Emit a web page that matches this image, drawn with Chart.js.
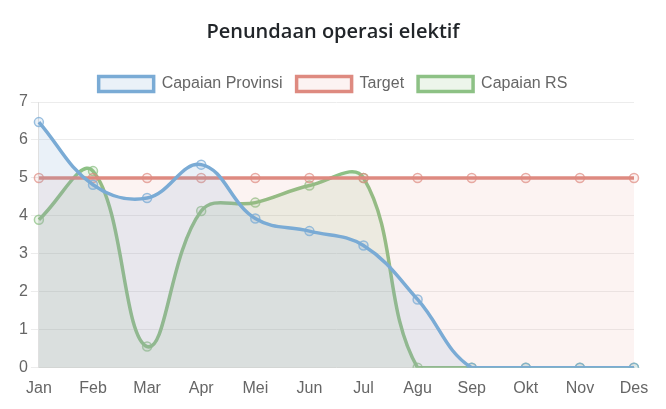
<!DOCTYPE html>
<html lang="id">
<head>
    <meta charset="UTF-8">
    <title>Penundaan operasi elektif</title>
    <script src="https://cdn.jsdelivr.net/npm/chart.js"></script>
    <style>
        body {
            margin: 0;
            background-color: #ffffff;
        }
        #chart-container {
            width: 666px;
            height: 409px;
        }
        canvas {
            display: block;
        }
    </style>
</head>
<body>
    <div id="chart-container">
        <canvas id="delayChart"></canvas>
    </div>

    <script>
        const months = ['Jan', 'Feb', 'Mar', 'Apr', 'Mei', 'Jun', 'Jul', 'Agu', 'Sep', 'Okt', 'Nov', 'Des'];
        const capaianProvinsi = [6.47, 4.82, 4.47, 5.35, 3.93, 3.6, 3.22, 1.8, 0, 0, 0, 0];
        const target = [5, 5, 5, 5, 5, 5, 5, 5, 5, 5, 5, 5];
        const capaianRS = [3.9, 5.18, 0.56, 4.13, 4.35, 4.8, 5.0, 0, 0, 0, 0, 0];

        const fontFamily = '"Liberation Sans", Arial, sans-serif';

        function lineSet(label, data, line, fill, point) {
            return {
                label: label,
                data: data,
                borderColor: line,
                backgroundColor: fill,
                borderWidth: 3.5,
                fill: 'origin',
                tension: 0.4,
                pointRadius: 4.5,
                pointBorderWidth: 1.5,
                pointBorderColor: point,
                pointBackgroundColor: fill
            };
        }

        new Chart(document.getElementById('delayChart'), {
            type: 'line',
            data: {
                labels: months,
                datasets: [
                    lineSet('Capaian Provinsi', capaianProvinsi, '#7aabd5', 'rgba(122, 171, 213, 0.16)', 'rgba(122, 171, 213, 0.75)'),
                    lineSet('Target', target, '#de8a80', 'rgba(222, 138, 128, 0.1)', 'rgba(222, 138, 128, 0.7)'),
                    lineSet('Capaian RS', capaianRS, '#8dc185', 'rgba(141, 193, 133, 0.16)', 'rgba(141, 193, 133, 0.75)')
                ]
            },
            options: {
                responsive: true,
                maintainAspectRatio: false,
                animation: false,
                layout: {
                    padding: { left: 16, right: 16, top: 8, bottom: 8 }
                },
                plugins: {
                    title: {
                        display: true,
                        text: 'Penundaan operasi elektif',
                        color: '#212529',
                        font: { family: '"Open Sans", sans-serif', size: 20, weight: '600' },
                        padding: { top: 12, bottom: 18 }
                    },
                    legend: {
                        labels: {
                            color: '#666',
                            font: { family: fontFamily, size: 16 },
                            boxWidth: 55,
                            boxHeight: 15,
                            padding: 14
                        }
                    },
                    tooltip: { enabled: false }
                },
                scales: {
                    x: {
                        grid: { display: false },
                        border: { color: '#e0e0e0' },
                        ticks: { color: '#666', font: { family: fontFamily, size: 16 } },
                        // leave the same room on the right as the original plot
                        afterFit: function (scale) {
                            scale.paddingRight = 32;
                        }
                    },
                    y: {
                        min: 0,
                        max: 7,
                        grid: { color: '#ececec' },
                        border: { color: '#e0e0e0' },
                        ticks: { stepSize: 1, color: '#666', font: { family: fontFamily, size: 16 } }
                    }
                }
            }
        });
    </script>
</body>
</html>
